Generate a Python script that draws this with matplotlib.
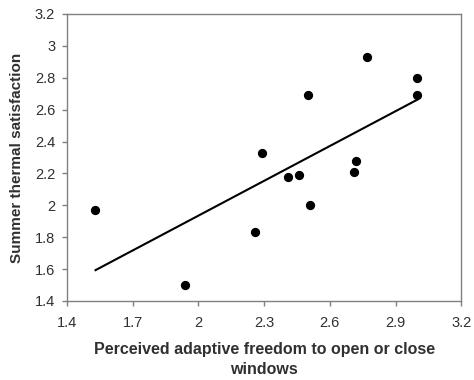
import numpy as np
import matplotlib
matplotlib.use('Agg')
import matplotlib.pyplot as plt

plt.rcParams['font.family'] = ['Liberation Sans', 'DejaVu Sans']

# Survey results: adaptive freedom vs. summer thermal satisfaction
freedom = [1.53, 1.94, 2.26, 2.29, 2.41, 2.46, 2.50, 2.51, 2.71, 2.72, 2.77, 3.00, 3.00]
satisfaction = [1.97, 1.50, 1.83, 2.33, 2.18, 2.19, 2.69, 2.00, 2.21, 2.28, 2.93, 2.80, 2.69]

x_ticks = [1.4, 1.7, 2.0, 2.3, 2.6, 2.9, 3.2]
x_tick_labels = ['1.4', '1.7', '2', '2.3', '2.6', '2.9', '3.2']
y_ticks = [1.4, 1.6, 1.8, 2.0, 2.2, 2.4, 2.6, 2.8, 3.0, 3.2]
y_tick_labels = ['1.4', '1.6', '1.8', '2', '2.2', '2.4', '2.6', '2.8', '3', '3.2']

fig = plt.figure(figsize=(4.74, 3.8), dpi=100)
ax = fig.add_axes([0.1414, 0.2079, 0.8318, 0.7553])

ax.scatter(freedom, satisfaction, s=32, color='black', zorder=3)

# Linear trend line across the data range
slope, intercept = np.polyfit(freedom, satisfaction, 1)
xs = np.array([min(freedom), max(freedom)])
ax.plot(xs, slope * xs + intercept, color='black', lw=1.5)

ax.set_xlim(1.4, 3.2)
ax.set_ylim(1.4, 3.2)
ax.set_xticks(x_ticks)
ax.set_xticklabels(x_tick_labels)
ax.set_yticks(y_ticks)
ax.set_yticklabels(y_tick_labels)

for s in ax.spines.values():
    s.set_color('#808080')
    s.set_linewidth(1.0)
ax.tick_params(direction='out', length=3.5, width=1.0, color='#808080',
               labelsize=10.5, labelcolor='#303030')
ax.tick_params(axis='x', pad=7)
ax.tick_params(axis='y', pad=5)

ax.set_xlabel('Perceived adaptive freedom to open or close\nwindows',
              fontsize=11.5, fontweight='bold', color='#303030', labelpad=9,
              linespacing=1.45)
ax.set_ylabel('Summer thermal satisfaction', fontsize=11,
              fontweight='bold', color='#303030', labelpad=8)

fig.savefig('out.png', dpi=100)
